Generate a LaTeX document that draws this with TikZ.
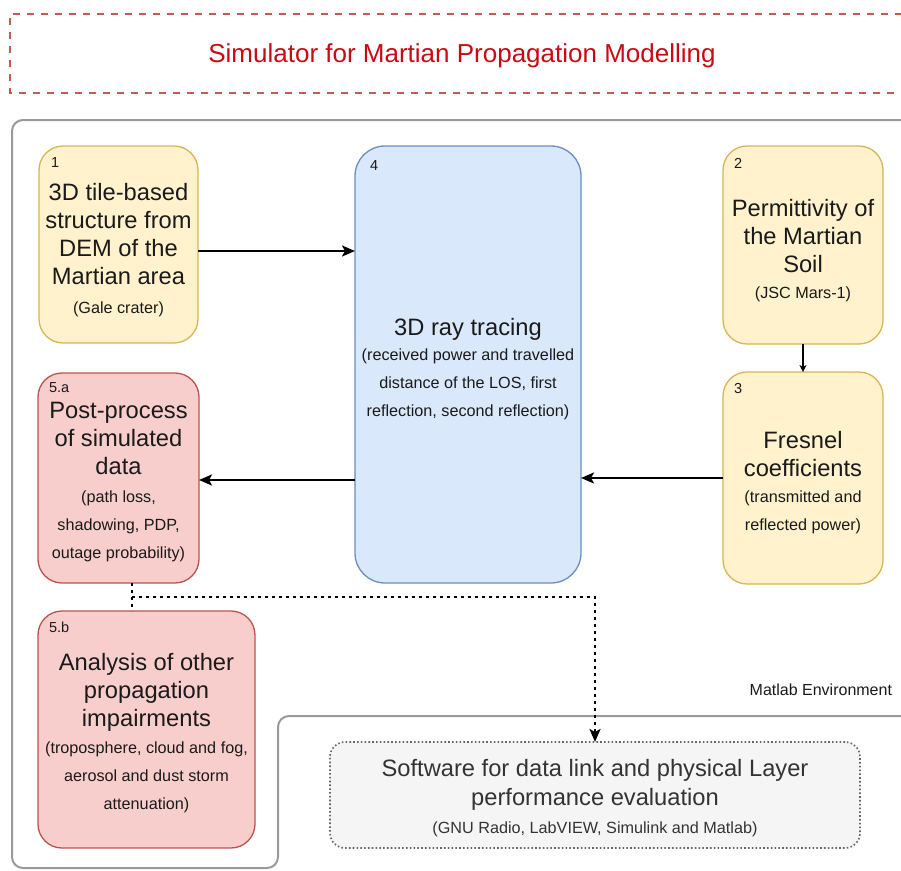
\documentclass[tikz,border=0pt]{standalone}
\usepackage{fontspec}
\setmainfont{Liberation Sans}
\usetikzlibrary{arrows.meta}

\definecolor{yfill}{HTML}{FFF2CC}
\definecolor{ydraw}{HTML}{D6B656}
\definecolor{bfill}{HTML}{DAE8FC}
\definecolor{bdraw}{HTML}{6C8EBF}
\definecolor{rfill}{HTML}{F8CECC}
\definecolor{rdraw}{HTML}{B85450}
\definecolor{gfill}{HTML}{F5F5F5}
\definecolor{gdraw}{HTML}{666666}
\definecolor{titlered}{HTML}{C80A14}
\definecolor{titledash}{HTML}{C45A55}
\definecolor{envgray}{HTML}{9A9A9A}
\definecolor{swtext}{HTML}{333333}
\definecolor{ink}{HTML}{1A1A1A}

\begin{document}
\begin{tikzpicture}[x=1pt,y=-1pt,
  every node/.style={inner sep=0pt, outer sep=0pt},
  panel/.style={rectangle, anchor=north west, line width=1.3pt},
  inputbox/.style={panel, fill=yfill, draw=ydraw, rounded corners=24pt},
  tracebox/.style={panel, fill=bfill, draw=bdraw, rounded corners=30pt},
  postbox/.style={panel, fill=rfill, draw=rdraw, rounded corners=24pt},
  swbox/.style={panel, fill=gfill, draw=gdraw, line width=1.6pt,
    dash pattern=on 1.6pt off 2.2pt, rounded corners=15pt},
  % multi-line text nodes are placed by the baseline of their last line
  maintxt/.style={font=\fontsize{23.7}{28}\selectfont, align=center, anchor=base, text=ink},
  subtxt/.style={font=\fontsize{16.2}{28}\selectfont, align=center, anchor=base, text=ink},
  numtxt/.style={font=\fontsize{14.5}{16}\selectfont, anchor=base west, text=ink},
  flow/.style={draw=black, line width=2.3pt, -{Stealth[length=13pt,width=11pt,inset=3pt]}},
  thinflow/.style={draw=black, line width=1.2pt, -{Stealth[length=7pt,width=7pt,inset=2pt]}},
  dotlink/.style={draw=black, line width=2.8pt, dash pattern=on 2.6pt off 4.4pt},
]
\useasboundingbox (0,0) rectangle (901,870);

% title frame
\draw[titledash, line width=2pt, dash pattern=on 7pt off 7pt]
  (930,14) -- (10,14) -- (10,93) -- (930,93);
\node[font=\fontsize{26}{30}\selectfont, text=titlered, anchor=base] (title) at (462,62)
  {Simulator for Martian Propagation Modelling};

% Matlab environment container
\draw[envgray, line width=2pt, rounded corners=11pt]
  (930,120) -- (12,120) -- (12,868) -- (278,868) -- (278,716) -- (930,716);
\node[font=\fontsize{16}{18}\selectfont, text=ink, anchor=base east] (env) at (892,695.5)
  {Matlab Environment};

% process boxes
\node[inputbox, minimum width=159pt, minimum height=197pt] (b1) at (39,146) {};
\node[inputbox, minimum width=160pt, minimum height=198pt] (b2) at (723,146) {};
\node[inputbox, minimum width=160pt, minimum height=212pt] (b3) at (723,372) {};
\node[tracebox, minimum width=226pt, minimum height=437pt] (b4) at (355,146) {};
\node[postbox, minimum width=161pt, minimum height=210pt] (b5a) at (38,373) {};
\node[postbox, minimum width=217pt, minimum height=237pt] (b5b) at (38,611) {};
\node[swbox, minimum width=530pt, minimum height=106pt] (sw) at (330,742) {};

% box 1
\node[numtxt] (n1) at (51,167) {1};
\node[maintxt] (t1) at (118.5,284) {3D tile-based\\structure from\\DEM of the\\Martian area};
\node[subtxt] (s1) at (118.5,313.5) {(Gale crater)};

% box 2
\node[numtxt] (n2) at (734,168) {2};
\node[maintxt] (t2) at (803,272) {Permittivity of\\the Martian\\Soil};
\node[subtxt] (s2) at (803,298.5) {(JSC Mars-1)};

% box 3
\node[numtxt] (n3) at (734,393) {3};
\node[maintxt] (t3) at (803,476) {Fresnel\\coefficients};
\node[subtxt] (s3) at (803,530.5) {(transmitted and\\reflected power)};

% box 4
\node[numtxt] (n4) at (370,170) {4};
\node[maintxt] (t4) at (468,335) {3D ray tracing};
\node[subtxt] (s4) at (468,416.5) {(received power and travelled\\distance of the LOS, first\\reflection, second reflection)};

% box 5.a
\node[numtxt] (n5a) at (49,392) {5.a};
\node[maintxt] (t5a) at (118.5,474) {Post-process\\of simulated\\data};
\node[subtxt] (s5a) at (118.5,558.5) {(path loss,\\shadowing, PDP,\\outage probability)};

% box 5.b
\node[numtxt] (n5b) at (49,632) {5.b};
\node[maintxt] (t5b) at (146.5,726) {Analysis of other\\propagation\\impairments};
\node[subtxt] (s5b) at (146.5,809) {(troposphere, cloud and fog,\\aerosol and dust storm\\attenuation)};

% software box
\node[maintxt, text=swtext, font=\fontsize{23.7}{29}\selectfont] (tsw) at (595,805)
  {Software for data link and physical Layer\\performance evaluation};
\node[subtxt, text=swtext] (ssw) at (595,833.5) {(GNU Radio, LabVIEW, Simulink and Matlab)};

% connectors
\coordinate (r14) at (0,251);
\coordinate (r34) at (0,478);
\coordinate (r45) at (0,480);
\coordinate (dj) at (132,597);

\draw[flow] (b1.east |- r14) -- (b4.west |- r14);
\draw[thinflow] (b2.south) -- (b3.north);
\draw[flow] (b3.west |- r34) -- (b4.east |- r34);
\draw[flow] (b4.west |- r45) -- (b5a.east |- r45);
\draw[dotlink] (dj |- b5a.south) -- (dj |- b5b.north);
\draw[dotlink, -{Stealth[length=13pt,width=11pt,inset=3pt]}] (dj) -| (sw.north);
\end{tikzpicture}
\end{document}
